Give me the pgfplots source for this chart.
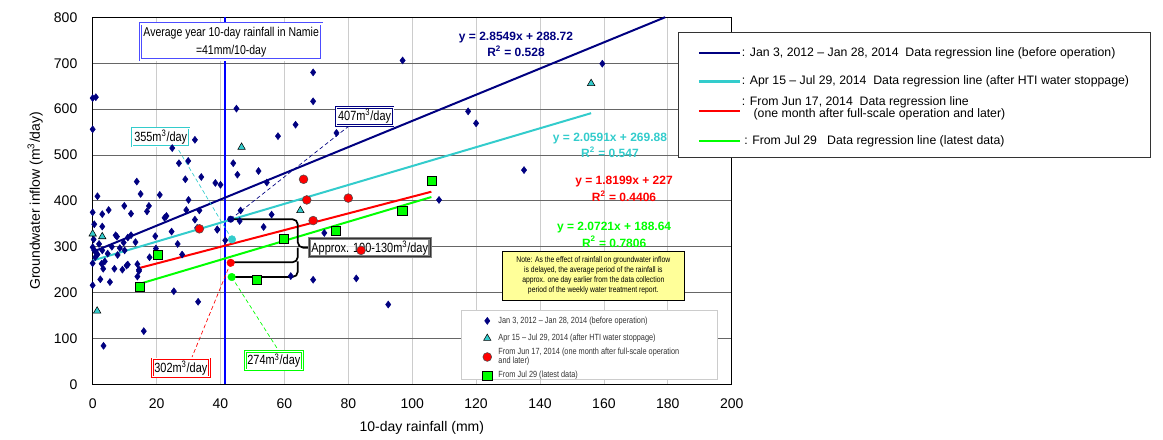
\documentclass[border=0pt]{standalone}
\usepackage{fontspec}
\setmainfont{Liberation Sans}
\newfontfamily\narrowfont[FakeStretch=0.82]{Liberation Sans}
\usepackage{pgfplots}
\pgfplotsset{compat=1.18}
\usepackage{pgfplotstable}
\definecolor{navy}{RGB}{0,0,128}
\definecolor{cyn}{RGB}{51,204,204}
\definecolor{grn}{RGB}{0,255,0}
\definecolor{notey}{RGB}{255,255,153}
\definecolor{avgblue}{RGB}{0,0,255}

\pgfplotstableread{
x y
0 624
1 626
0 556
1.5 410
0 375
3 371
5 380
9.9 389
12 372
17 377
17.6 389
13.8 442
15 415
21 413
22.5 363
23.1 367
29.3 380
30 402
33.4 379
0.5 349
3 344
7.2 325
7.6 322
9.7 309
11 320
12 325
13.4 310
19.6 323
24.7 333
26.6 306
28 283
32 359
39 338
41.5 314
0 299
0.5 292
1 288
1.5 283
0.8 277
3 292
4.7 285
7.8 282
10 292
17.8 277
19.8 296
2.8 263
3.8 268
0 264
3.3 252
6.8 252
9.3 250
10.6 259
11 261
14.5 250
14 262
2.4 229
5.4 223
0 216
25.4 203
16 116
3.4 84
33 180
14 235
14.5 247
0.3 316
2 306
6 300
8.5 297
24.9 515
27 482
29.9 487
32 533
29 447
34 452
38.4 439
40 435
44 482
45 601
45.3 457
51.9 465
54.5 440
46.3 379
56 370
46 356
53.5 343
39 337
32.7 341
72.5 330
62 236
69 228
82.5 231
63.5 566
58 541
76.3 548
69 680
69 617
97 706
159.5 699
117.5 595
120 569
135 467
108.4 402
92.5 174
}\blueData

\pgfplotstableread{
x y
0 328
3 322
1.4 160
46.6 517
65 379
156 656
}\cyanData

\pgfplotstableread{
x y
33.4 339
66 447
67 402
69 357
80 406
84 292
}\redData

\pgfplotstableread{
x y
14.6 212
20.5 283
51.4 227
59.7 317
76 335
96.9 378
106 444
}\greenData

\begin{document}
\begin{tikzpicture}
\path[use as bounding box] (-69.5pt,-41.25pt) rectangle (802.7pt,288.25pt);
\begin{axis}[
  at={(0pt,0pt)}, anchor=south west,
  scale only axis, width=479.25pt, height=275.25pt,
  xmin=0, xmax=200, ymin=0, ymax=800,
  xtick={0,20,...,200}, ytick={0,100,...,800},
  grid=major,
  x grid style={gray!40, line width=0.6pt},
  y grid style={black!60, line width=0.6pt},
  major tick length=0pt,
  /pgf/number format/assume math mode=true,
  tick label style={font=\fontsize{10.5}{12}\selectfont},
  xticklabel style={yshift=-7pt},
  yticklabel style={xshift=-8pt},
  xlabel={10-day rainfall (mm)},
  ylabel={Groundwater inflow (m\textsuperscript{3}/day)},
  label style={font=\fontsize{10.5}{12}\selectfont},
  xlabel style={at={(axis description cs:0.515,0)}, anchor=center, yshift=-33pt},
  ylabel style={at={(axis description cs:-0.09,0.5)}, anchor=center},
  axis line style={black, line width=0.6pt},
  clip=false,
  legend cell align=left,
  legend style={at={(axis cs:122.0,158.0)}, anchor=north west, draw=none, fill=none,
    font=\narrowfont\fontsize{6.7}{6.5}\selectfont, text=black!80,
    row sep=0pt, column sep=4pt, inner sep=0pt, cells={align=left},
    nodes={inner sep=1pt, minimum height=13.1pt}},
]
% average rainfall line
\addplot[forget plot, avgblue, line width=2pt] coordinates {(41.4,0) (41.4,800)};

% scatter data
\addplot[only marks, mark=diamond*, mark size=2.6pt, navy] table[x=x,y=y] {\blueData};
\addlegendentry{Jan 3, 2012 – Jan 28, 2014 (before operation)}
\addplot[only marks, mark=triangle*, mark size=3.2pt, draw=black, fill=cyn, line width=0.4pt] table[x=x,y=y] {\cyanData};
\addlegendentry{Apr 15 – Jul 29, 2014 (after HTI water stoppage)}

% regression lines
\addplot[forget plot, navy, line width=1.5pt] coordinates {(0,288.72) (179.2,800.3)};
\addplot[forget plot, cyn, line width=1.5pt] coordinates {(0,269.88) (156,591.1)};
\addplot[forget plot, red, line width=1.5pt] coordinates {(14,252.5) (106,419.9)};
\addplot[forget plot, grn, line width=1.5pt] coordinates {(15,219.7) (106,408.3)};

\addplot[only marks, mark=*, mark size=3.3pt, draw=black!70, fill=red, line width=0.4pt] table[x=x,y=y] {\redData};
\addlegendentry{From Jun 17, 2014 (one month after full-scale operation\\and later)}
\addplot[only marks, mark=square*, mark size=3.4pt, draw=black, fill=grn, line width=0.4pt] table[x=x,y=y] {\greenData};
\addlegendentry{From Jul 29 (latest data)}

% annotation dots
\addplot[forget plot, only marks, mark=*, mark size=2.4pt, navy] coordinates {(43.2,360)};
\addplot[forget plot, only marks, mark=*, mark size=2.8pt, cyn] coordinates {(43.6,316)};
\addplot[forget plot, only marks, mark=*, mark size=2.8pt, red] coordinates {(43.2,265)};
\addplot[forget plot, only marks, mark=*, mark size=2.8pt, grn] coordinates {(43.5,234)};

% dashed leader lines
\draw[cyn, densely dashed, line width=0.5pt] (axis cs:43.6,316) -- (axis cs:26.8,512);
\draw[navy, densely dashed, line width=0.5pt] (axis cs:43.2,360) -- (axis cs:80,562);
\draw[red, densely dashed, line width=0.5pt] (axis cs:43.2,265) -- (axis cs:31.1,59.5);
\draw[grn, densely dashed, line width=0.5pt] (axis cs:43.5,234) -- (axis cs:57.8,77.8);

% bracket
\draw[black, line width=1.3pt, rounded corners=4pt] (axis cs:43.5,360) -- (axis cs:64.2,360) -- (axis cs:64.2,298) -- (axis cs:68.4,298);
\draw[black, line width=1.3pt, rounded corners=4pt] (axis cs:43.5,266) -- (axis cs:64.2,266) -- (axis cs:64.2,298);
\draw[black, line width=1.3pt, rounded corners=4pt] (axis cs:43.5,234) -- (axis cs:64.2,234) -- (axis cs:64.2,268);

% boxes
\node[draw=avgblue!70, double=white, double distance=1pt, line width=0.6pt, fill=white,
  minimum width=136pt, minimum height=27pt, align=center, inner sep=1pt,
  font=\narrowfont\fontsize{9.6}{13.5}\selectfont] at (axis cs:43.35,746.5)
  {Average year 10-day rainfall in Namie\\=41mm/10-day};
\node[draw=cyn, double=white, double distance=0.8pt, line width=0.5pt, fill=white, inner sep=1.5pt,
  minimum height=13pt, font=\narrowfont\fontsize{10}{12}\selectfont] at (axis cs:21.3,538.8)
  {355m\textsuperscript{3}/day};
\node[draw=navy, double=white, double distance=0.8pt, line width=0.5pt, fill=white, inner sep=1.5pt,
  minimum height=13pt, font=\narrowfont\fontsize{10}{12}\selectfont] at (axis cs:85.1,583.9)
  {407m\textsuperscript{3}/day};
\node[draw=red, double=white, double distance=0.8pt, line width=0.5pt, fill=white, inner sep=1.5pt,
  minimum height=13pt, font=\narrowfont\fontsize{10}{12}\selectfont] at (axis cs:27.6,36)
  {302m\textsuperscript{3}/day};
\node[draw=grn, double=white, double distance=0.8pt, line width=0.5pt, fill=white, inner sep=1.5pt,
  minimum height=13pt, font=\narrowfont\fontsize{10}{12}\selectfont] at (axis cs:56.7,51.6)
  {274m\textsuperscript{3}/day};
\node[draw=gray, double=black!80, double distance=0.5pt, line width=0.9pt, fill=white, fill opacity=0.8, text opacity=1, inner sep=1.5pt,
  minimum height=13pt, font=\narrowfont\fontsize{10}{12}\selectfont] at (axis cs:86.7,297.8)
  {Approx. 100-130m\textsuperscript{3}/day};

% regression equations
\node[navy, align=center, font=\bfseries\fontsize{9}{12.5}\selectfont] at (axis cs:132.5,740.9)
  {y = 2.8549x + 288.72\\R\textsuperscript{2} = 0.528};
\node[cyn, align=center, font=\bfseries\fontsize{9}{12.5}\selectfont] at (axis cs:161.9,520.7)
  {y = 2.0591x + 269.88\\R\textsuperscript{2} = 0.547};
\node[red, align=center, font=\bfseries\fontsize{9}{12.5}\selectfont] at (axis cs:166.3,426.2)
  {y = 1.8199x + 227\\R\textsuperscript{2} = 0.4406};
\node[grn, align=center, font=\bfseries\fontsize{9}{12.5}\selectfont] at (axis cs:163.2,326.4)
  {y = 2.0721x + 188.64\\R\textsuperscript{2} = 0.7806};

% note box
\node[draw=black, line width=0.6pt, fill=notey, minimum width=136pt, minimum height=37pt,
  align=center, inner sep=2pt, font=\narrowfont\fontsize{6.2}{7.5}\selectfont] at (axis cs:156.7,236.7)
  {Note: As the effect of rainfall on groundwater inflow\\is delayed, the average period of the rainfall is\\approx. one day earlier from the data collection\\period of the weekly water treatment report.};

% lower legend frame
\draw[gray!40, line width=0.6pt, fill=white] (axis cs:115.3,161) rectangle (axis cs:195.5,11);
\end{axis}

% top-right legend
\draw[black!80, line width=0.6pt, fill=white] (439pt,170.25pt) rectangle (793pt,264.2pt);
\draw[navy, line width=1.8pt] (454.7pt,248.5pt) -- (485.5pt,248.5pt);
\draw[cyn, line width=1.8pt] (454.7pt,227.25pt) -- (485.5pt,227.25pt);
\draw[red, line width=1.8pt] (454.7pt,205pt) -- (485.5pt,205pt);
\draw[grn, line width=1.8pt] (454.7pt,182.5pt) -- (485.5pt,182.5pt);
\begin{scope}[every node/.style={anchor=west, inner sep=0pt, font=\fontsize{9.2}{10}\selectfont}]
\node at (486.75pt,248.5pt) {: Jan 3, 2012 – Jan 28, 2014\ \ Data regression line (before operation)};
\node at (486.75pt,227.25pt) {: Apr 15 – Jul 29, 2014\ \ Data regression line (after HTI water stoppage)};
\node at (486.75pt,211.7pt) {: From Jun 17, 2014\ \ Data regression line};
\node at (495.5pt,202.5pt) {(one month after full-scale operation and later)};
\node at (488.5pt,182.5pt) {: From Jul 29\ \ \ Data regression line (latest data)};
\end{scope}
\end{tikzpicture}
\end{document}
